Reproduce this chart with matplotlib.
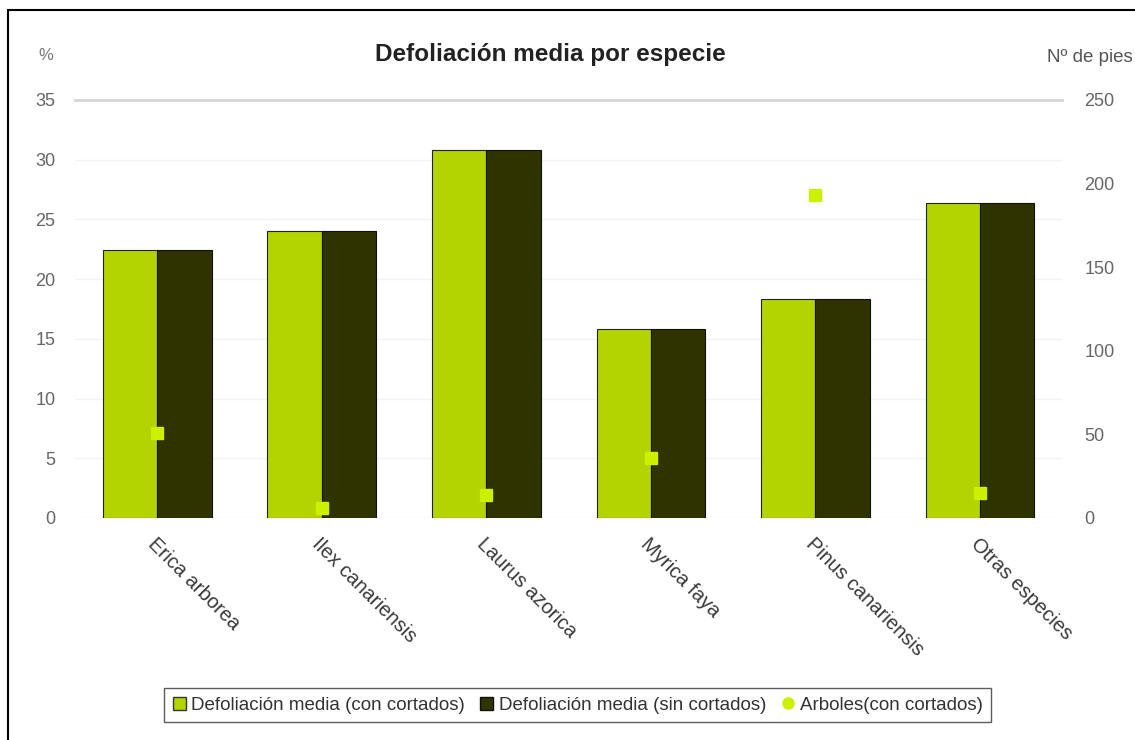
import numpy as np
import matplotlib
matplotlib.use("Agg")
import matplotlib.pyplot as plt
from matplotlib.lines import Line2D
from matplotlib.patches import Patch, Rectangle

plt.rcParams['font.family'] = ['Liberation Sans', 'DejaVu Sans']

especies = ["Erica arborea", "Ilex canariensis", "Laurus azorica",
            "Myrica faya", "Pinus canariensis", "Otras especies"]
defol_con = [22.4, 24.0, 30.8, 15.8, 18.3, 26.4]
defol_sin = [22.4, 24.0, 30.8, 15.8, 18.3, 26.4]
arboles = [51, 6, 14, 36, 193, 15]

c_con = "#b4d400"
c_sin = "#2f3300"
c_pts = "#ccf000"

fig = plt.figure(figsize=(11.35, 7.4), dpi=100)
fig.patches.append(Rectangle((0.007, -0.01), 1.1, 0.997, transform=fig.transFigure,
                             fill=False, edgecolor="black", linewidth=1.5))

ax = fig.add_axes([0.066, 0.30, 0.870, 0.565])
ax2 = ax.twinx()

x = np.arange(len(especies))
w = 0.33
ax.bar(x - w / 2, defol_con, w, color=c_con, edgecolor="#222222", linewidth=0.8, zorder=3)
ax.bar(x + w / 2, defol_sin, w, color=c_sin, edgecolor="#111111", linewidth=0.8, zorder=3)
ax2.plot(x, arboles, linestyle="none", marker="s", markersize=9, color=c_pts, zorder=5)

ax.set_xlim(-0.5, len(especies) - 0.5)
ax.set_ylim(0, 35)
ax.set_yticks(np.arange(0, 36, 5))
ax2.set_ylim(0, 250)
ax2.set_yticks(np.arange(0, 251, 50))
ax.grid(axis="y", color="#f3f3f3", linewidth=1.0, zorder=0)
ax.axhline(35, color="#d6d6d6", linewidth=2, zorder=1, clip_on=False)
ax.set_axisbelow(True)

for a in (ax, ax2):
    for s in a.spines.values():
        s.set_visible(False)
    a.tick_params(length=0, labelsize=13, labelcolor="#666666")
ax.tick_params(axis="y", pad=14)
ax2.tick_params(axis="y", pad=16)

ax.set_xticks(x)
ax.set_xticklabels(especies, rotation=-45, ha="left", va="top",
                   rotation_mode="anchor", fontsize=14.5, color="#3a3a3a")
ax.tick_params(axis="x", pad=12)

fig.text(0.485, 0.927, "Defoliación media por especie", ha="center", va="center",
         fontsize=17.5, fontweight="bold", color="#222222")
fig.text(0.040, 0.925, "%", ha="center", va="center", fontsize=12, color="#777777")
fig.text(0.960, 0.922, "Nº de pies", ha="center", va="center", fontsize=13.5, color="#555555")

handles = [Patch(facecolor=c_con, edgecolor="#333333"),
           Patch(facecolor=c_sin, edgecolor="#111111"),
           Line2D([], [], linestyle="none", marker="o", markersize=8, color=c_pts)]
labels = ["Defoliación media (con cortados)", "Defoliación media (sin cortados)",
          "Arboles(con cortados)"]
leg = fig.legend(handles, labels, loc="center", bbox_to_anchor=(0.509, 0.047), ncol=3,
                 frameon=True, fancybox=False, edgecolor="#333333", fontsize=13.5,
                 handlelength=0.7, handleheight=0.7, handletextpad=0.3,
                 columnspacing=0.8, borderpad=0.45)
leg.get_frame().set_linewidth(1.0)
for t in leg.get_texts():
    t.set_color("#333333")

fig.savefig("out.png", dpi=100)
